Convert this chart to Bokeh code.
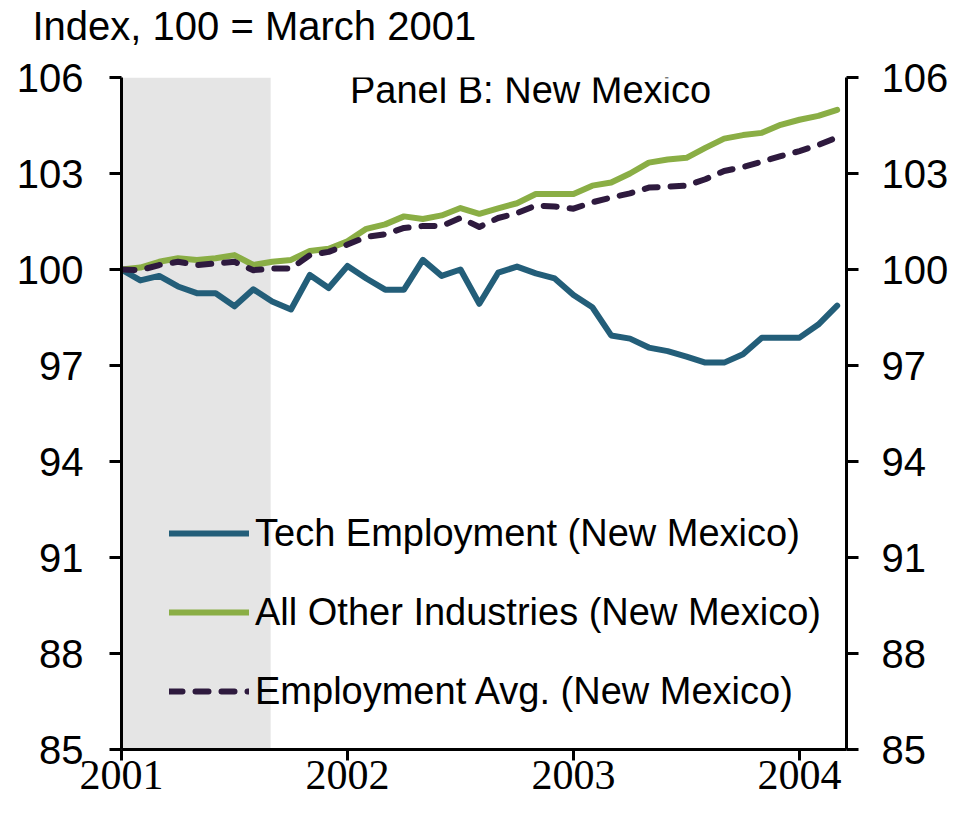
from bokeh.plotting import figure
from bokeh.models import (LinearAxis, FixedTicker, BoxAnnotation, Label, Legend, LegendItem,
                          Range1d, ColumnDataSource, Title)
from bokeh.embed import file_html
from bokeh.resources import INLINE

# ---------------- data ----------------
months = [f"{2001 + i // 12}-{i % 12 + 1:02d}" for i in range(39)]  # Jan 2001 .. Mar 2004
x_years = [int(m[:4]) + (int(m[5:]) - 1) / 12 for m in months]

tech = [100.0, 99.66, 99.8, 99.47, 99.26, 99.26, 98.85, 99.38, 99.0, 98.75,
        99.83, 99.42, 100.11, 99.72, 99.37, 99.37, 100.3, 99.8, 100.0, 98.93,
        99.9, 100.09, 99.88, 99.72, 99.2, 98.82, 97.94, 97.84, 97.56, 97.45,
        97.28, 97.09, 97.09, 97.35, 97.87, 97.87, 97.87, 98.28, 98.87]
other = [100.0, 100.06, 100.24, 100.35, 100.3, 100.35, 100.45, 100.14, 100.24, 100.3,
         100.58, 100.65, 100.88, 101.27, 101.41, 101.66, 101.58, 101.69, 101.92, 101.74,
         101.91, 102.07, 102.36, 102.36, 102.36, 102.62, 102.72, 103.0, 103.34, 103.44,
         103.49, 103.8, 104.09, 104.2, 104.27, 104.52, 104.68, 104.8, 104.99]
avg = [100.0, 99.98, 100.14, 100.24, 100.14, 100.19, 100.24, 99.98, 100.03, 100.03,
       100.45, 100.55, 100.78, 101.02, 101.1, 101.3, 101.36, 101.36, 101.61, 101.33,
       101.61, 101.76, 102.0, 101.97, 101.9, 102.1, 102.25, 102.38, 102.56, 102.59,
       102.62, 102.82, 103.08, 103.2, 103.37, 103.54, 103.7, 103.89, 104.13]

y_ticks = [85, 88, 91, 94, 97, 100, 103, 106]
x_ticks = [2001, 2002, 2003, 2004]
recession = (2001.0, 2001.66)

series_names = ["Tech Employment (New Mexico)", "All Other Industries (New Mexico)",
                "Employment Avg. (New Mexico)"]
title_text = "Index, 100 = March 2001"
panel_text = "Panel B: New Mexico"

# ---------------- styling ----------------
FONT = "Liberation Sans"
NARROW = "Liberation Sans Narrow"
C_TECH = "#235e79"
C_OTHER = "#8aae45"
C_AVG = "#2e1a3e"
C_SHADE = "#e5e5e5"

p = figure(width=959, height=807, output_backend="svg", toolbar_location=None,
           x_range=Range1d(2001, 2004.208), y_range=Range1d(85, 106),
           min_border_left=121, min_border_right=113, min_border_top=77, min_border_bottom=58,
           x_axis_location="below", y_axis_location="left")
p.title = None
p.outline_line_color = None
p.xgrid.grid_line_color = None
p.ygrid.grid_line_color = None
p.background_fill_color = "white"
p.border_fill_color = "white"

# spacer next to the frame, then the unit title further out
p.add_layout(Title(text=" ", text_font=FONT, text_font_size="20px", standoff=6), "above")
p.add_layout(Title(text=title_text, align="left", offset=-89, standoff=0,
                   vertical_align="bottom", text_font=FONT, text_font_size="40px",
                   text_font_style="normal", text_color="black"), "above")

# recession shading
p.add_layout(BoxAnnotation(left=recession[0], right=recession[1], fill_color=C_SHADE,
                           fill_alpha=1.0, line_color=None, level="underlay"))

src = ColumnDataSource(dict(x=x_years, tech=tech, other=other, avg=avg))
r_tech = p.line("x", "tech", source=src, line_color=C_TECH, line_width=6,
                line_join="round", line_cap="round")
r_other = p.line("x", "other", source=src, line_color=C_OTHER, line_width=6,
                 line_join="round", line_cap="round")
r_avg = p.line("x", "avg", source=src, line_color=C_AVG, line_width=6,
               line_dash="13 13", line_join="round", line_cap="round")

# axes
def style_axis(ax, standoff, font, size):
    ax.axis_line_width = 3
    ax.axis_line_color = "black"
    ax.major_tick_line_width = 3
    ax.major_tick_line_color = "black"
    ax.major_tick_in = 0
    ax.minor_tick_line_color = None
    ax.major_label_text_font = font
    ax.major_label_text_font_size = size
    ax.major_label_text_color = "black"
    ax.major_label_standoff = standoff

xa = p.xaxis[0]
xa.ticker = FixedTicker(ticks=x_ticks)
style_axis(xa, 0, NARROW, "42px")
xa.major_tick_out = 11

ya = p.yaxis[0]
ya.ticker = FixedTicker(ticks=y_ticks)
style_axis(ya, 26, FONT, "40px")
ya.major_tick_out = 12

yr = LinearAxis(ticker=FixedTicker(ticks=y_ticks))
style_axis(yr, 23, FONT, "40px")
yr.major_tick_out = 12
p.add_layout(yr, "right")

# panel label inside the frame
p.add_layout(Label(x=2002.81, y=105.6, text=panel_text, text_font=FONT,
                   text_font_size="38px", text_color="black", text_baseline="middle",
                   text_align="center"))

legend = Legend(items=[LegendItem(label=series_names[0], renderers=[r_tech]),
                       LegendItem(label=series_names[1], renderers=[r_other]),
                       LegendItem(label=series_names[2], renderers=[r_avg])],
                location=(48, 36), padding=0, margin=0, spacing=35,
                glyph_width=80, glyph_height=44, label_height=44, label_standoff=6,
                label_text_font=FONT, label_text_font_size="38px", label_text_color="black",
                background_fill_alpha=0, border_line_alpha=0)
p.add_layout(legend, "center")

open("out.html", "w").write(file_html(p, INLINE))
